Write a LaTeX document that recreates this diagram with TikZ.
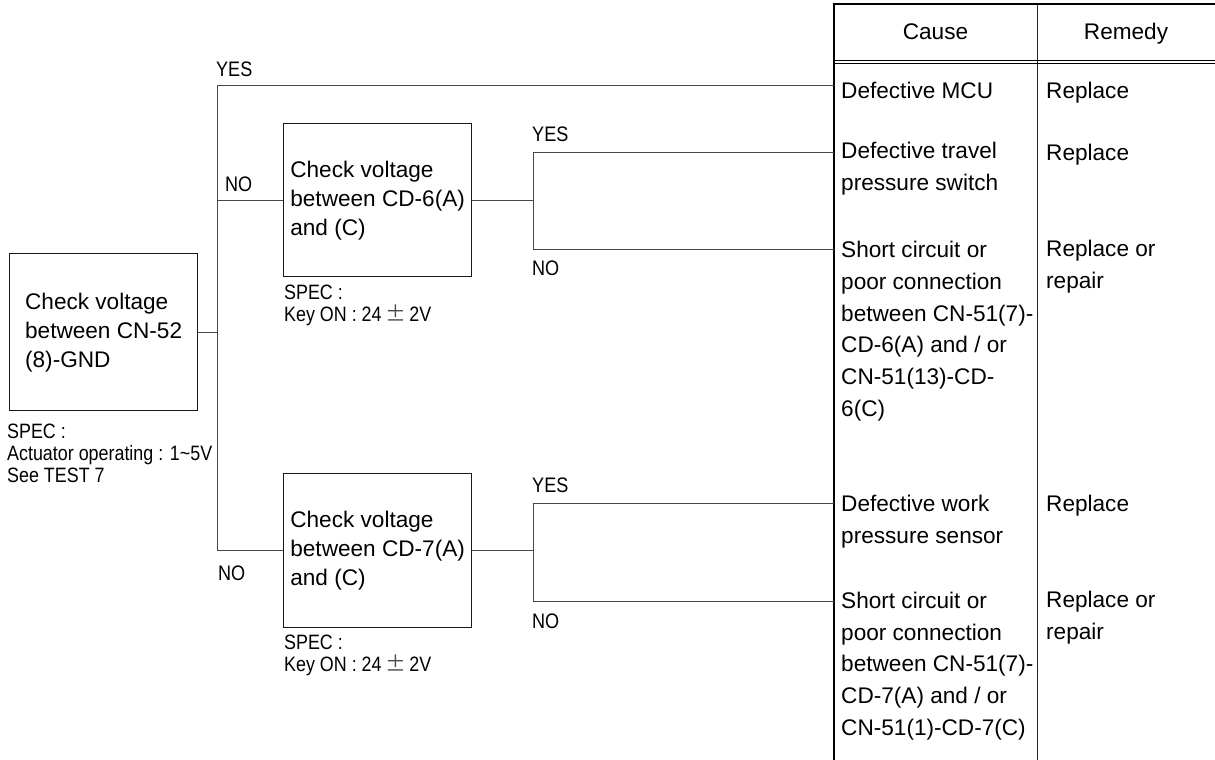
\documentclass[tikz,border=0pt]{standalone}
\usepackage{fontspec}
\setmainfont{Liberation Sans}
\newfontfamily\condsans[FakeStretch=0.86]{Liberation Sans}
\newfontfamily\cjkpm{Noto Sans CJK JP}
\newcommand{\mainsz}{\fontsize{22.6}{29}\selectfont}
\newcommand{\tabsz}{\fontsize{22.6}{31.7}\selectfont}
\newcommand{\smallsz}{\condsans\fontsize{20.8}{22}\selectfont}
\newcommand{\lblsz}{\condsans\fontsize{21}{22}\selectfont}
\newcommand{\pmsign}{{\cjkpm\textcolor{black!70}{±}}}
\begin{document}
\begin{tikzpicture}[x=1pt,y=-1pt,
  box/.style={draw=black!90, line width=1.3pt, minimum width=188pt, anchor=north west,
              font=\mainsz, align=left, inner sep=0pt},
  conn/.style={draw=black!72, line width=1pt},
  tabtxt/.style={font=\tabsz, inner sep=0pt, align=left, anchor=west},
  tabone/.style={font=\tabsz, inner sep=0pt, anchor=base west},
  spec/.style={font=\smallsz, inner sep=0pt, align=left, anchor=north west},
  lbl/.style={font=\lblsz, inner sep=0pt, anchor=west}]
\useasboundingbox (0,0) rectangle (1215,760);

% ---- table frame ----
\coordinate (TL) at (834,4);
\coordinate (TB) at (834,760);
\coordinate (TM) at (1037,4);
\coordinate (TMB) at (1037,760);
\coordinate (TR) at (1215,4);
\draw[black!85, line width=1pt] (TM) -- (TMB);
\draw[black, line width=2pt] (TR) -- (TL) -- (TB);
\draw[black, line width=1.2pt] (TL |- 0,60.6) -- (1215,60.6);
\draw[black, line width=1.2pt] (TL |- 0,63.8) -- (1215,63.8);

\node[font=\tabsz, inner sep=0pt, anchor=base] (hc) at (935.5,40) {Cause};
\node[font=\tabsz, inner sep=0pt, anchor=base] (hr) at (1126,40) {Remedy};

% ---- causes ----
\node[tabone] (c1) at (841,98) {Defective MCU};
\node[tabtxt] (c2) at (841,169) {Defective travel\\pressure switch};
\node[tabtxt] (c3) at (841,331) {Short circuit or\\poor connection\\between CN-51(7)-\\CD-6(A) and / or\\CN-51(13)-CD-\\6(C)};
\node[tabtxt] (c4) at (841,522) {Defective work\\pressure sensor};
\node[tabtxt] (c5) at (841,666) {Short circuit or\\poor connection\\between CN-51(7)-\\CD-7(A) and / or\\CN-51(1)-CD-7(C)};

% ---- remedies ----
\node[tabone] (r1) at (1046,98) {Replace};
\node[tabone] (r2) at (1046,160) {Replace};
\node[tabtxt] (r3) at (1046,267) {Replace or\\repair};
\node[tabone] (r4) at (1046,511) {Replace};
\node[tabtxt] (r5) at (1046,618) {Replace or\\repair};

% ---- check boxes ----
\node[box, minimum height=157pt] (b1) at (9,253) {Check voltage\\between CN-52\\(8)-GND};
\node[box, minimum height=153pt] (b2) at (283,123) {Check voltage\\between CD-6(A)\\and (C)};
\node[box, minimum height=154pt] (b3) at (283,473) {Check voltage\\between CD-7(A)\\and (C)};

% ---- specs ----
\node[spec] (s1) at (7,424) {SPEC :\\Actuator operating : 1\char`~5V\\See TEST 7};
\node[spec] (s2) at (284,285) {SPEC :\\Key ON : 24\,\pmsign\,2V};
\node[spec] (s3) at (284,635) {SPEC :\\Key ON : 24\,\pmsign\,2V};

% ---- junction coordinates ----
\coordinate (v1t) at (217,85);
\coordinate (v2t) at (533,152);
\coordinate (v2b) at (533,249);
\coordinate (v3t) at (533,503);
\coordinate (v3b) at (533,601);

% ---- connectors ----
\draw[conn] (b1.east) -- (b1.east -| v1t);
\draw[conn] (v1t -| TL) -- (v1t) -- (v1t |- b3.west) -- (b3.west);
\draw[conn] (v1t |- b2.west) -- (b2.west);
\draw[conn] (b2.east) -- (b2.east -| v2t);
\draw[conn] (v2t -| TL) -- (v2t) -- (v2b) -- (v2b -| TL);
\draw[conn] (b3.east) -- (b3.east -| v3t);
\draw[conn] (v3t -| TL) -- (v3t) -- (v3b) -- (v3b -| TL);

% ---- labels ----
\node[lbl] (y1) at (216,69) {YES};
\node[lbl] (n1) at (225,184) {NO};
\node[lbl] (y2) at (532,134) {YES};
\node[lbl] (n2) at (532,268) {NO};
\node[lbl] (n3) at (218,573) {NO};
\node[lbl] (y3) at (532,485) {YES};
\node[lbl] (n4) at (532,621) {NO};
\end{tikzpicture}
\end{document}
